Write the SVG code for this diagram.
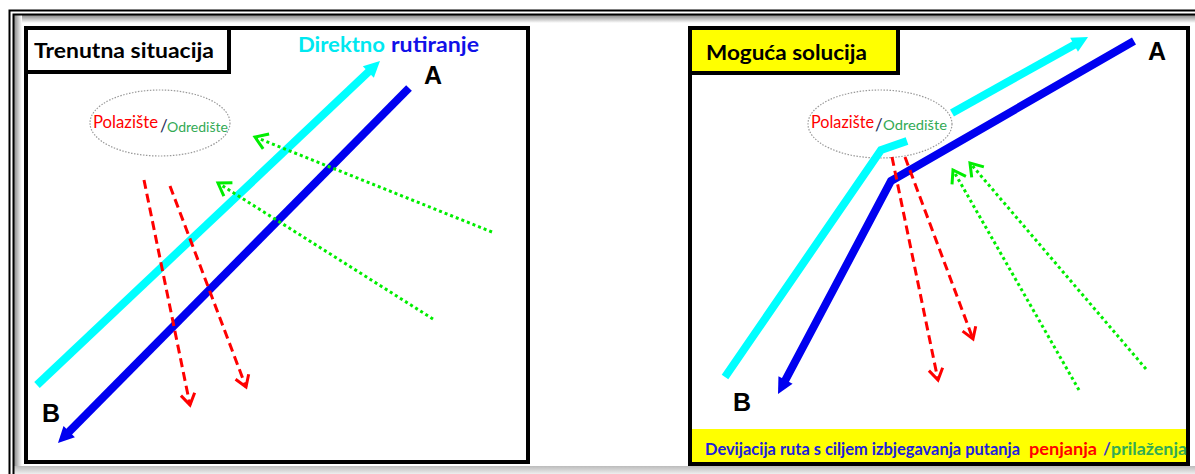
<svg xmlns="http://www.w3.org/2000/svg" width="1195" height="474" viewBox="0 0 1195 474">
<style>
.t{font-family:Lato,"Open Sans","Noto Sans",sans-serif;}
.b{font-weight:bold;}
.ab{font-family:"Liberation Sans",Arial,sans-serif;font-weight:bold;font-size:25px;fill:#000;}
.panel{fill:#fff;stroke:#000;stroke-width:4;}
.route{fill:none;stroke-width:8;stroke-linejoin:miter;}
.cl{stroke:#00ffff;}
.bl{stroke:#0000f0;}
.red{fill:none;stroke:#ff0000;stroke-width:3;stroke-dasharray:9 5;}
.grn{fill:none;stroke:#00ee00;stroke-width:3;stroke-dasharray:3 3;}
.ell{fill:none;stroke:#999;stroke-width:1.2;stroke-dasharray:1.5 1.5;}
</style>
<defs>
<marker id="mc" markerUnits="userSpaceOnUse" markerWidth="18" markerHeight="18" refX="6" refY="8" orient="auto" overflow="visible"><path d="M0,0 L16,8 L0,16 z" fill="#00ffff"/></marker>
<marker id="mb" markerUnits="userSpaceOnUse" markerWidth="18" markerHeight="18" refX="6" refY="8" orient="auto" overflow="visible"><path d="M0,0 L16,8 L0,16 z" fill="#0000f0"/></marker>
<marker id="mr" markerUnits="userSpaceOnUse" markerWidth="14" markerHeight="14" refX="11" refY="7" orient="auto" overflow="visible"><path d="M0,0 L11,7 L0,14" fill="none" stroke="#ff0000" stroke-width="3"/></marker>
<marker id="mg" markerUnits="userSpaceOnUse" markerWidth="16" markerHeight="16" refX="12" refY="8" orient="auto" overflow="visible"><path d="M0,0 L12,8 L0,16" fill="none" stroke="#00ee00" stroke-width="3"/></marker>
<linearGradient id="gt" x1="0" y1="0" x2="0" y2="1"><stop offset="0" stop-color="#888"/><stop offset="1" stop-color="#fff"/></linearGradient>
<linearGradient id="gl" x1="0" y1="0" x2="1" y2="0"><stop offset="0" stop-color="#888"/><stop offset="1" stop-color="#fff"/></linearGradient>
<linearGradient id="gb" x1="0" y1="0" x2="0" y2="1"><stop offset="0" stop-color="#bbb"/><stop offset="1" stop-color="#eee"/></linearGradient>
</defs>
<rect x="0" y="0" width="1195" height="474" fill="#fff"/>
<g id="frame">
<rect x="14" y="15" width="1181" height="8" fill="url(#gt)"/>
<rect x="14" y="15" width="8" height="459" fill="url(#gl)"/>
<rect x="14" y="466" width="1181" height="8" fill="url(#gb)"/>
<path d="M1195,10.5 H9.5 V474" fill="none" stroke="#000" stroke-width="2"/>
<path d="M1195,14.5 H13.5 V474" fill="none" stroke="#000" stroke-width="2"/>
</g>
<g id="panel-left">
<rect class="panel" x="26" y="28" width="502" height="434"/>
<rect class="panel" x="26" y="28" width="203" height="44"/>
<text class="t b" x="34" y="58" font-size="20" textLength="180" lengthAdjust="spacingAndGlyphs">Trenutna situacija</text>
<text class="t b" x="298" y="52" font-size="21" fill="#00e8f0" textLength="87" lengthAdjust="spacingAndGlyphs">Direktno</text>
<text class="t b" x="391" y="52" font-size="21" fill="#1010e8" textLength="88" lengthAdjust="spacingAndGlyphs">rutiranje</text>
</g>
<g id="panel-right">
<rect class="panel" x="690" y="28" width="498" height="436"/>
<rect x="692" y="429" width="494" height="33" fill="#ffff00"/>
<rect x="690" y="28" width="208" height="45" fill="#ffff00" stroke="#000" stroke-width="4"/>
<text class="t b" x="706" y="60" font-size="20" textLength="161" lengthAdjust="spacingAndGlyphs">Moguća solucija</text>
</g>
<g id="node-left-ellipse">
<ellipse class="ell" cx="160" cy="123" rx="70" ry="33"/>
<text class="t" x="93" y="128" font-size="17" fill="#ff0000" textLength="65" lengthAdjust="spacingAndGlyphs">Polazište</text>
<text class="t" x="160" y="132" font-size="17" fill="#1f2d5a">/</text>
<text class="t" x="167" y="132" font-size="14" fill="#33aa55" textLength="61" lengthAdjust="spacingAndGlyphs">Odredište</text>
</g>
<g id="node-right-ellipse">
<ellipse class="ell" cx="880" cy="124" rx="72" ry="34"/>
<text class="t" x="811" y="128" font-size="17" fill="#ff0000" textLength="63" lengthAdjust="spacingAndGlyphs">Polazište</text>
<text class="t" x="875" y="131" font-size="17" fill="#1f2d5a">/</text>
<text class="t" x="883" y="130" font-size="14" fill="#33aa55" textLength="64" lengthAdjust="spacingAndGlyphs">Odredište</text>
</g>
<g id="labels">
<text class="ab" x="424" y="84">A</text>
<text class="ab" x="42" y="422">B</text>
<text class="ab" x="1148" y="60">A</text>
<text class="ab" x="733" y="411">B</text>
</g>
<g id="connectors">
<line class="route cl" x1="37" y1="385" x2="372.7" y2="67.9" marker-end="url(#mc)"/>
<line class="route bl" x1="409" y1="88" x2="65" y2="435.9" marker-end="url(#mb)"/>
<line class="red" x1="144" y1="180" x2="190" y2="405" marker-end="url(#mr)"/>
<line class="red" x1="170" y1="186" x2="246" y2="387" marker-end="url(#mr)"/>
<line class="grn" x1="492" y1="232" x2="255" y2="137" marker-end="url(#mg)"/>
<line class="grn" x1="433" y1="319" x2="218" y2="183" marker-end="url(#mg)"/>
<polyline class="route cl" points="725,377 881,150 907,141"/>
<line class="route cl" x1="952" y1="113" x2="1079.3" y2="41.9" marker-end="url(#mc)"/>
<polyline class="route bl" points="1134,41 891,181 782.7,385.2" marker-end="url(#mb)"/>
<line class="red" x1="892" y1="157" x2="938" y2="380" marker-end="url(#mr)"/>
<line class="red" x1="905" y1="157" x2="973" y2="339" marker-end="url(#mr)"/>
<line class="grn" x1="1079" y1="390" x2="953" y2="170" marker-end="url(#mg)"/>
<line class="grn" x1="1146" y1="369" x2="970" y2="163" marker-end="url(#mg)"/>
</g>
<g id="caption">
<text class="t b" x="705" y="455" font-size="17" fill="#2020dd" textLength="315" lengthAdjust="spacingAndGlyphs">Devijacija ruta s ciljem izbjegavanja putanja</text>
<text class="t b" x="1029" y="455" font-size="17" fill="#ff0000" textLength="68" lengthAdjust="spacingAndGlyphs">penjanja</text>
<text class="t b" x="1103" y="455" font-size="17" fill="#4040c0">/</text>
<text class="t b" x="1111" y="455" font-size="17" fill="#33aa55" textLength="76" lengthAdjust="spacingAndGlyphs">prilaženja</text>
</g>
</svg>
